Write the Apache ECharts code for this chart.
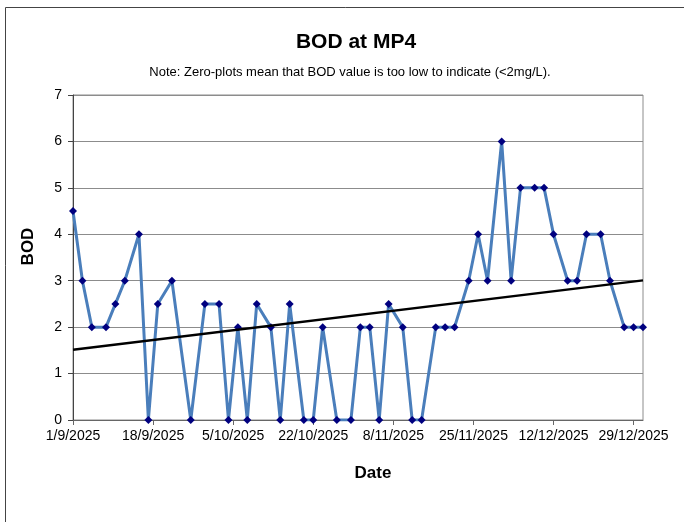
<!DOCTYPE html>
<html lang="en">
<head>
    <meta charset="UTF-8">
    <title>BOD at MP4</title>
    <script src="https://cdn.jsdelivr.net/npm/echarts@6/dist/echarts.min.js"></script>
    <style>
        body { margin: 0; background: #fff; }
        #main { width: 684px; height: 522px; }
    </style>
</head>
<body>
<div id="main"></div>
<script type="text/javascript">
    // sampling dates (d/m/yyyy) and BOD readings, 0 = below 2 mg/L
    var sampleDates = ['1/9/2025', '3/9/2025', '5/9/2025', '8/9/2025', '10/9/2025', '12/9/2025', '15/9/2025',
        '17/9/2025', '19/9/2025', '22/9/2025', '26/9/2025', '29/9/2025', '2/10/2025', '4/10/2025', '6/10/2025',
        '8/10/2025', '10/10/2025', '13/10/2025', '15/10/2025', '17/10/2025', '20/10/2025', '22/10/2025',
        '24/10/2025', '27/10/2025', '30/10/2025', '1/11/2025', '3/11/2025', '5/11/2025', '7/11/2025',
        '10/11/2025', '12/11/2025', '14/11/2025', '17/11/2025', '19/11/2025', '21/11/2025', '24/11/2025',
        '26/11/2025', '28/11/2025', '1/12/2025', '3/12/2025', '5/12/2025', '8/12/2025', '10/12/2025',
        '12/12/2025', '15/12/2025', '17/12/2025', '19/12/2025', '22/12/2025', '24/12/2025', '27/12/2025',
        '29/12/2025', '31/12/2025'];
    var bodValues = [4.5, 3, 2, 2, 2.5, 3, 4, 0, 2.5, 3,
        0, 2.5, 2.5, 0, 2, 0, 2.5, 2, 0, 2.5,
        0, 0, 2, 0, 0, 2, 2, 0, 2.5, 2,
        0, 0, 2, 2, 2, 3, 4, 3, 6, 3,
        5, 5, 5, 4, 3, 3, 4, 4, 3, 2,
        2, 2];
    var axisStart = '1/9/2025';
    var axisEnd = '31/12/2025';
    var tickStepDays = 17;

    var DAY = 86400000;
    function toUTC(s) {
        var p = s.split('/');
        return Date.UTC(+p[2], +p[1] - 1, +p[0]);
    }
    var t0 = toUTC(axisStart);
    function dayOf(s) { return Math.round((toUTC(s) - t0) / DAY); }
    function labelOf(d) {
        var dt = new Date(t0 + d * DAY);
        return dt.getUTCDate() + '/' + (dt.getUTCMonth() + 1) + '/' + dt.getUTCFullYear();
    }

    var points = sampleDates.map(function (s, i) { return [dayOf(s), bodValues[i]]; });

    // linear trend (least squares), like the spreadsheet trendline
    var n = points.length, sx = 0, sy = 0, sxx = 0, sxy = 0;
    points.forEach(function (p) { sx += p[0]; sy += p[1]; sxx += p[0] * p[0]; sxy += p[0] * p[1]; });
    var slope = (n * sxy - sx * sy) / (n * sxx - sx * sx);
    var icpt = (sy - slope * sx) / n;
    var lastDay = dayOf(axisEnd);
    var trend = [[0, icpt], [lastDay, icpt + slope * lastDay]];

    var font = 'Liberation Sans, Arial, sans-serif';
    var myChart = echarts.init(document.getElementById('main'));
    var option = {
        animation: false,
        backgroundColor: '#fff',
        textStyle: { fontFamily: font },
        graphic: [{
            type: 'rect', left: 3, top: 5, silent: true,
            shape: { width: 700, height: 600 },
            style: { fill: 'none', stroke: '#444', lineWidth: 1 }
        }],
        title: [{
            text: 'BOD at MP4', left: 351, top: 27, textAlign: 'center',
            textStyle: { fontSize: 21, fontWeight: 'bold', color: '#000', fontFamily: font }
        }, {
            text: 'Note: Zero-plots mean that BOD value is too low to indicate (<2mg/L).',
            left: 345, top: 61, textAlign: 'center',
            textStyle: { fontSize: 13, fontWeight: 'normal', color: '#000', fontFamily: font }
        }],
        grid: {
            left: 73, top: 95, right: 41, bottom: 102,
            show: true, borderColor: '#8c8c8c', borderWidth: 1, backgroundColor: 'transparent'
        },
        xAxis: {
            type: 'value', min: 0, max: lastDay, interval: tickStepDays,
            name: 'Date', nameLocation: 'middle', nameGap: 45,
            nameTextStyle: { fontSize: 17, fontWeight: 'bold', color: '#000', padding: [0, 0, 0, 30] },
            axisLine: { show: true, lineStyle: { color: '#666', width: 1 } },
            axisTick: { show: true, length: 5, lineStyle: { color: '#666' } },
            axisLabel: {
                fontSize: 14, color: '#000', margin: 9, showMaxLabel: false,
                formatter: function (v) { return labelOf(v); }
            },
            splitLine: { show: false }
        },
        yAxis: {
            type: 'value', min: 0, max: 7, interval: 1,
            name: 'BOD', nameLocation: 'middle', nameGap: 36, nameRotate: 90,
            nameTextStyle: { fontSize: 17, fontWeight: 'bold', color: '#000', padding: [0, 0, 0, 22] },
            axisLine: { show: true, lineStyle: { color: '#444', width: 1 } },
            axisTick: { show: true, length: 5, lineStyle: { color: '#444' } },
            axisLabel: { fontSize: 14, color: '#000', margin: 11 },
            splitLine: { show: true, lineStyle: { color: '#8c8c8c', width: 1 } }
        },
        series: [{
            name: 'BOD',
            type: 'line',
            data: points,
            lineStyle: { color: '#4a7ebb', width: 3 },
            symbol: 'diamond',
            symbolSize: 8,
            itemStyle: { color: '#00007f' },
            z: 2
        }, {
            name: 'Trend',
            type: 'line',
            data: trend,
            symbol: 'none',
            lineStyle: { color: '#000', width: 2.5 },
            z: 3
        }]
    };
    myChart.setOption(option);
</script>
</body>
</html>
